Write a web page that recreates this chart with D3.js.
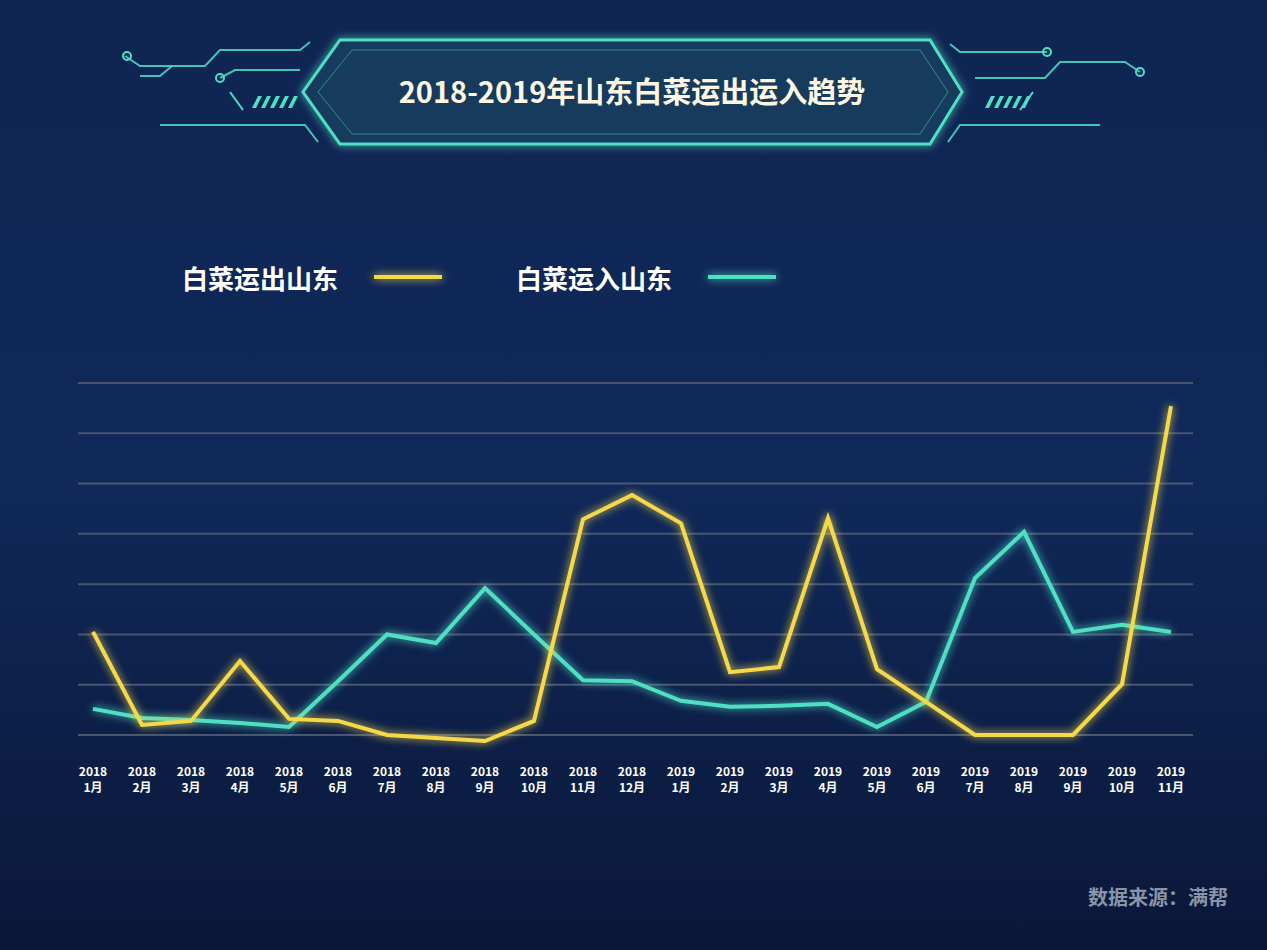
<!DOCTYPE html>
<html><head><meta charset="utf-8">
<script src="https://cdn.jsdelivr.net/npm/d3@7/dist/d3.min.js"></script>
<style>body{margin:0;background:#0c1d45}svg{display:block}text{font-family:"Noto Sans CJK SC","Noto Sans",sans-serif}</style>
</head><body>
<svg id="c" width="1267" height="950"></svg>
<script>
const years=["2018","2018","2018","2018","2018","2018","2018","2018","2018","2018","2018","2018","2019","2019","2019","2019","2019","2019","2019","2019","2019","2019","2019"];
const months=["1月","2月","3月","4月","5月","6月","7月","8月","9月","10月","11月","12月","1月","2月","3月","4月","5月","6月","7月","8月","9月","10月","11月"];
const outVals=[2.05,0.2,0.28,1.47,0.32,0.28,0.0,-0.06,-0.12,0.28,4.29,4.77,4.21,1.25,1.35,4.31,1.31,0.66,0,0,0,1.01,6.54];
const inVals=[0.52,0.34,0.3,0.24,0.16,1.07,2.0,1.83,2.92,2.0,1.09,1.07,0.68,0.56,0.58,0.62,0.16,0.66,3.12,4.04,2.05,2.19,2.05];
const gridTicks=[0,1,2,3,4,5,6,7];
const seriesNames=["白菜运出山东","白菜运入山东"];
const colors=["#f6d94a","#4fe0c4"];

const svg=d3.select("#c");
const defs=svg.append("defs");
const bg=defs.append("linearGradient").attr("id","bg").attr("x1",0).attr("y1",0).attr("x2",0).attr("y2",1);
bg.append("stop").attr("offset","0").attr("stop-color","#0f2552");
bg.append("stop").attr("offset","0.5").attr("stop-color","#10295a");
bg.append("stop").attr("offset","1").attr("stop-color","#0a1738");
svg.append("rect").attr("width",1267).attr("height",950).attr("fill","url(#bg)");
const glow=defs.append("filter").attr("id","glow").attr("filterUnits","userSpaceOnUse").attr("x",0).attr("y",0).attr("width",1267).attr("height",950);
glow.append("feGaussianBlur").attr("stdDeviation",4).attr("result","b");
const m=glow.append("feMerge");m.append("feMergeNode").attr("in","b");m.append("feMergeNode").attr("in","SourceGraphic");

const tg=svg.append("g");
tg.append("path").attr("d","M340,40 L930,40 L962,92 L930,144 L340,144 L303,92 Z").attr("fill","#123a5c").attr("stroke","#4fe0c4").attr("stroke-width",3).attr("filter","url(#glow)");
tg.append("path").attr("d","M352,50 L920,50 L948,92 L920,134 L352,134 L318,92 Z").attr("fill","none").attr("stroke","#2e8f8a").attr("stroke-width",1);
tg.append("text").attr("x",632).attr("y",103).attr("text-anchor","middle").attr("fill","#fdf6e3").attr("font-size",29).attr("font-weight",700).text("2018-2019年山东白菜运出运入趋势");
const deco=["M160,125 L305,125 L318,142","M125,56 L140,66 L205,66 L220,50 L300,50 L310,42","M220,78 L235,70 L300,70","M1100,125 L960,125 L948,142","M1140,72 L1125,62 L1060,62 L1045,78 L975,78","M1047,52 L960,52 L950,44","M140,76 L160,76 L172,66"];
deco.forEach(d=>tg.append("path").attr("d",d).attr("fill","none").attr("stroke","#4fe0c4").attr("stroke-width",2).attr("opacity",0.85));
[[127,56],[220,78],[1047,52],[1140,72]].forEach(p=>tg.append("circle").attr("cx",p[0]).attr("cy",p[1]).attr("r",4).attr("fill","none").attr("stroke","#4fe0c4").attr("stroke-width",2));
for(let i=0;i<5;i++){
 tg.append("path").attr("d",`M${252+i*9},108 L${258+i*9},96 L${262+i*9},96 L${256+i*9},108 Z`).attr("fill","#4fe0c4");
 tg.append("path").attr("d",`M${985+i*9},108 L${991+i*9},96 L${995+i*9},96 L${989+i*9},108 Z`).attr("fill","#4fe0c4");
}
tg.append("line").attr("x1",230).attr("y1",92).attr("x2",243).attr("y2",110).attr("stroke","#4fe0c4").attr("stroke-width",2);
tg.append("line").attr("x1",1020).attr("y1",110).attr("x2",1033).attr("y2",92).attr("stroke","#4fe0c4").attr("stroke-width",2);

const lg=[[182,374],[516,708]];
seriesNames.forEach((n,i)=>{
 svg.append("text").attr("x",lg[i][0]).attr("y",289).attr("fill","#fff").attr("font-size",26).attr("font-weight",700).text(n);
 svg.append("line").attr("x1",lg[i][1]).attr("x2",lg[i][1]+68).attr("y1",277).attr("y2",277).attr("stroke",colors[i]).attr("stroke-width",4).attr("filter","url(#glow)");
});

const x=d3.scalePoint().domain(d3.range(months.length)).range([93,1171]);
const y=d3.scaleLinear().domain([0,7]).range([735,383]);
svg.append("g").selectAll("line").data(gridTicks).join("line")
 .attr("x1",78).attr("x2",1193).attr("y1",d=>y(d)).attr("y2",d=>y(d)).attr("stroke","#4a5670").attr("stroke-width",2);

const lbl=svg.append("g");
months.forEach((mo,i)=>{
 const t=lbl.append("text").attr("text-anchor","middle").attr("fill","#fff").attr("font-size",12).attr("font-weight",700);
 t.append("tspan").attr("x",x(i)).attr("y",776).text(years[i]);
 t.append("tspan").attr("x",x(i)).attr("y",792).text(mo);
});

const line=d3.line().x((d,i)=>x(i)).y(d=>y(d));
[[inVals,colors[1]],[outVals,colors[0]]].forEach(([v,c])=>{
 svg.append("path").attr("d",line(v)).attr("fill","none").attr("stroke",c).attr("stroke-width",4).attr("filter","url(#glow)");
});

svg.append("text").attr("x",1228).attr("y",905).attr("text-anchor","end").attr("fill","#8a93a8").attr("font-size",20).attr("font-weight",700).text("数据来源：满帮");
</script>
</body></html>
